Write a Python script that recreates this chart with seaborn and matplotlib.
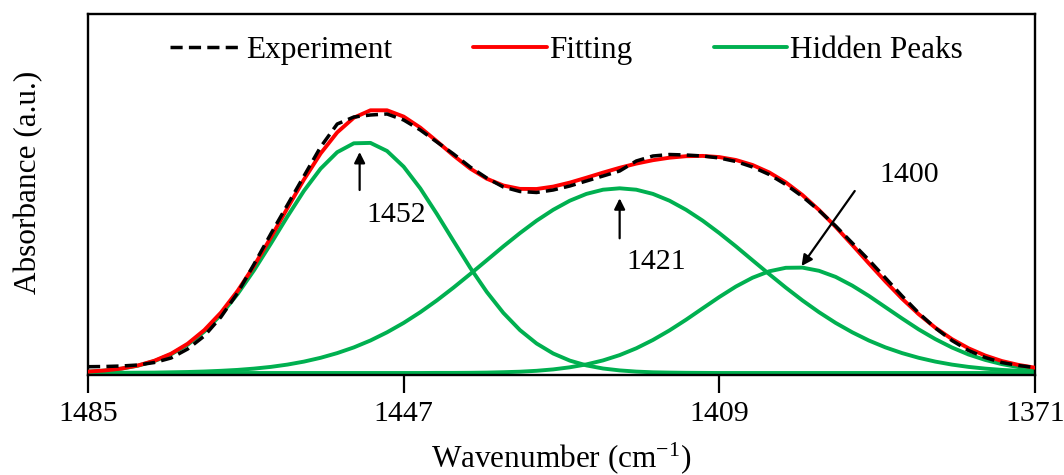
import matplotlib
matplotlib.use("Agg")
import matplotlib.pyplot as plt
import seaborn as sns
import pandas as pd

# wavenumber grid (cm-1) and curves (arbitrary absorbance units)
wavenumber = [1485, 1483, 1481, 1479, 1477, 1475, 1473, 1471, 1469, 1467,
              1465, 1463, 1461, 1459, 1457, 1455, 1453, 1451, 1449, 1447,
              1445, 1443, 1441, 1439, 1437, 1435, 1433, 1431, 1429, 1427,
              1425, 1423, 1421, 1419, 1417, 1415, 1413, 1411, 1409, 1407,
              1405, 1403, 1401, 1399, 1397, 1395, 1393, 1391, 1389, 1387,
              1385, 1383, 1381, 1379, 1377, 1375, 1373, 1371]

experiment = [6.3, 6.5, 7.0, 8.0, 10.5, 15.0, 24.0, 37.0, 56.0, 80.0,
              109.0, 139.0, 168.0, 197.0, 226.0, 249.0, 256.0, 258.0, 259.0, 253.0,
              243.0, 231.0, 219.0, 206.0, 195.0, 186.0, 181.5, 180.5, 183.0, 187.0,
              192.0, 197.0, 202.0, 212.0, 217.0, 218.5, 218.0, 217.0, 215.0, 211.5,
              206.0, 198.5, 188.5, 176.5, 162.5, 147.0, 130.0, 113.0, 95.0, 77.0,
              60.0, 45.0, 32.5, 22.5, 15.5, 10.5, 7.5, 5.5]

fitting = [1.4, 2.5, 4.4, 7.5, 12.3, 19.3, 29.3, 42.9, 60.4, 82.0,
           107.3, 135.4, 164.8, 193.5, 219.5, 240.6, 255.3, 262.7, 262.7, 256.4,
           245.4, 231.7, 217.5, 204.5, 194.3, 187.5, 184.1, 184.0, 186.4, 190.4,
           195.3, 200.4, 205.2, 209.4, 212.8, 215.3, 216.8, 217.1, 215.9, 213.0,
           208.0, 200.6, 190.6, 178.0, 163.0, 146.2, 128.1, 109.6, 91.5, 74.3,
           58.8, 45.3, 33.9, 24.7, 17.5, 12.0, 8.1, 5.3]

peak_1452 = [1.3, 2.4, 4.3, 7.3, 11.9, 18.7, 28.3, 41.4, 58.2, 78.9,
             102.9, 129.2, 156.4, 182.2, 204.3, 220.8, 229.7, 230.1, 222.0, 206.3,
             184.6, 159.0, 132.0, 105.4, 81.1, 60.1, 42.9, 29.5, 19.5, 12.4,
             7.6, 4.5, 2.6, 1.4, 0.7, 0.4, 0.2, 0.1, 0.0, 0.0,
             0.0, 0.0, 0.0, 0.0, 0.0, 0.0, 0.0, 0.0, 0.0, 0.0,
             0.0, 0.0, 0.0, 0.0, 0.0, 0.0, 0.0, 0.0]

peak_1421 = [0.1, 0.1, 0.2, 0.3, 0.4, 0.7, 1.0, 1.5, 2.2, 3.1,
             4.4, 6.1, 8.4, 11.4, 15.2, 19.9, 25.6, 32.5, 40.7, 50.1,
             60.8, 72.6, 85.4, 98.9, 112.7, 126.6, 139.9, 152.3, 163.2, 172.3,
             179.1, 183.3, 184.7, 183.3, 179.1, 172.3, 163.2, 152.3, 139.9, 126.6,
             112.7, 98.9, 85.4, 72.6, 60.8, 50.1, 40.7, 32.5, 25.6, 19.9,
             15.2, 11.4, 8.4, 6.1, 4.4, 3.1, 2.2, 1.5]

peak_1400 = [0.0, 0.0, 0.0, 0.0, 0.0, 0.0, 0.0, 0.0, 0.0, 0.0,
             0.0, 0.0, 0.0, 0.0, 0.0, 0.0, 0.0, 0.0, 0.0, 0.0,
             0.0, 0.1, 0.1, 0.2, 0.4, 0.8, 1.3, 2.2, 3.6, 5.7,
             8.6, 12.6, 17.9, 24.7, 33.0, 42.6, 53.3, 64.7, 76.0, 86.5,
             95.3, 101.7, 105.2, 105.4, 102.2, 96.1, 87.4, 77.1, 65.8, 54.5,
             43.6, 33.9, 25.5, 18.5, 13.1, 8.9, 5.9, 3.8]

xticks = [1485, 1447, 1409, 1371]

df = pd.DataFrame({'wn': wavenumber, 'exp': experiment, 'fit': fitting,
                   'p1': peak_1452, 'p2': peak_1421, 'p3': peak_1400})

sns.set_theme(style="white")
plt.rcParams['font.family'] = ['Liberation Serif', 'DejaVu Serif']
plt.rcParams['mathtext.fontset'] = 'custom'
plt.rcParams['mathtext.rm'] = 'Liberation Serif'
plt.rcParams['mathtext.it'] = 'Liberation Serif:italic'
plt.rcParams['text.color'] = 'black'
plt.rcParams['axes.labelcolor'] = 'black'
plt.rcParams['xtick.color'] = 'black'
plt.rcParams['lines.solid_capstyle'] = 'round'

GREEN = '#00B050'

fig = plt.figure(figsize=(10.64, 4.75), dpi=100)
ax = fig.add_axes([88 / 1064, 1 - 375 / 475, (1035 - 88) / 1064, 361 / 475])

# hidden peaks
for col in ['p1', 'p2', 'p3']:
    sns.lineplot(data=df, x='wn', y=col, ax=ax, color=GREEN, linewidth=2.8, sort=False, zorder=2)
sns.lineplot(data=df, x='wn', y='fit', ax=ax, color='#FF0000', linewidth=2.8, sort=False, zorder=3)
sns.lineplot(data=df, x='wn', y='exp', ax=ax, color='black', linewidth=2.5, sort=False,
             linestyle=(0, (3.5, 1.8)), zorder=4)

lines = ax.get_lines()
h_green, h_red, h_exp = lines[0], lines[3], lines[4]
ax.legend([h_exp, h_red, h_green], ['Experiment', 'Fitting', 'Hidden Peaks'],
          loc='center', bbox_to_anchor=(0.505, 0.9), ncol=3, frameon=False,
          fontsize=22.5, handlelength=2.35, handletextpad=0.08, columnspacing=2.6)

ax.set_xlim(1485, 1371)
ax.set_ylim(-2, 359)
ax.set_xticks(xticks)
ax.set_xticklabels([str(t) for t in xticks])
ax.set_yticks([])
ax.tick_params(axis='x', direction='out', length=13, width=1.6, color='black',
               labelcolor='black', labelsize=21.5, pad=6, bottom=True)
for s in ax.spines.values():
    s.set_color('black')
    s.set_linewidth(1.7)

ax.set_xlabel('Wavenumber (cm$^{-1}$)', fontsize=22.5, labelpad=9, color='black')
ax.set_ylabel('Absorbance (a.u.)', fontsize=22.5, color='black')
ax.yaxis.set_label_coords(-0.0475, 0.533)

# peak labels with arrows
arrow = dict(arrowstyle='-|>', color='black', lw=1.6, shrinkA=0, shrinkB=0, mutation_scale=16)
ax.annotate('', xy=(1452.3, 221), xytext=(1452.3, 183), arrowprops=arrow)
ax.text(1447.9, 151.3, '1452', fontsize=21.5, ha='center', va='baseline', color='black')
ax.annotate('', xy=(1421.0, 174.7), xytext=(1421.0, 134.7), arrowprops=arrow)
ax.text(1416.6, 103.7, '1421', fontsize=21.5, ha='center', va='baseline', color='black')
ax.annotate('', xy=(1399.1, 107), xytext=(1392.7, 182), arrowprops=arrow)
ax.text(1386.2, 191.3, '1400', fontsize=21.5, ha='center', va='baseline', color='black')

fig.savefig('out.png', dpi=100)
